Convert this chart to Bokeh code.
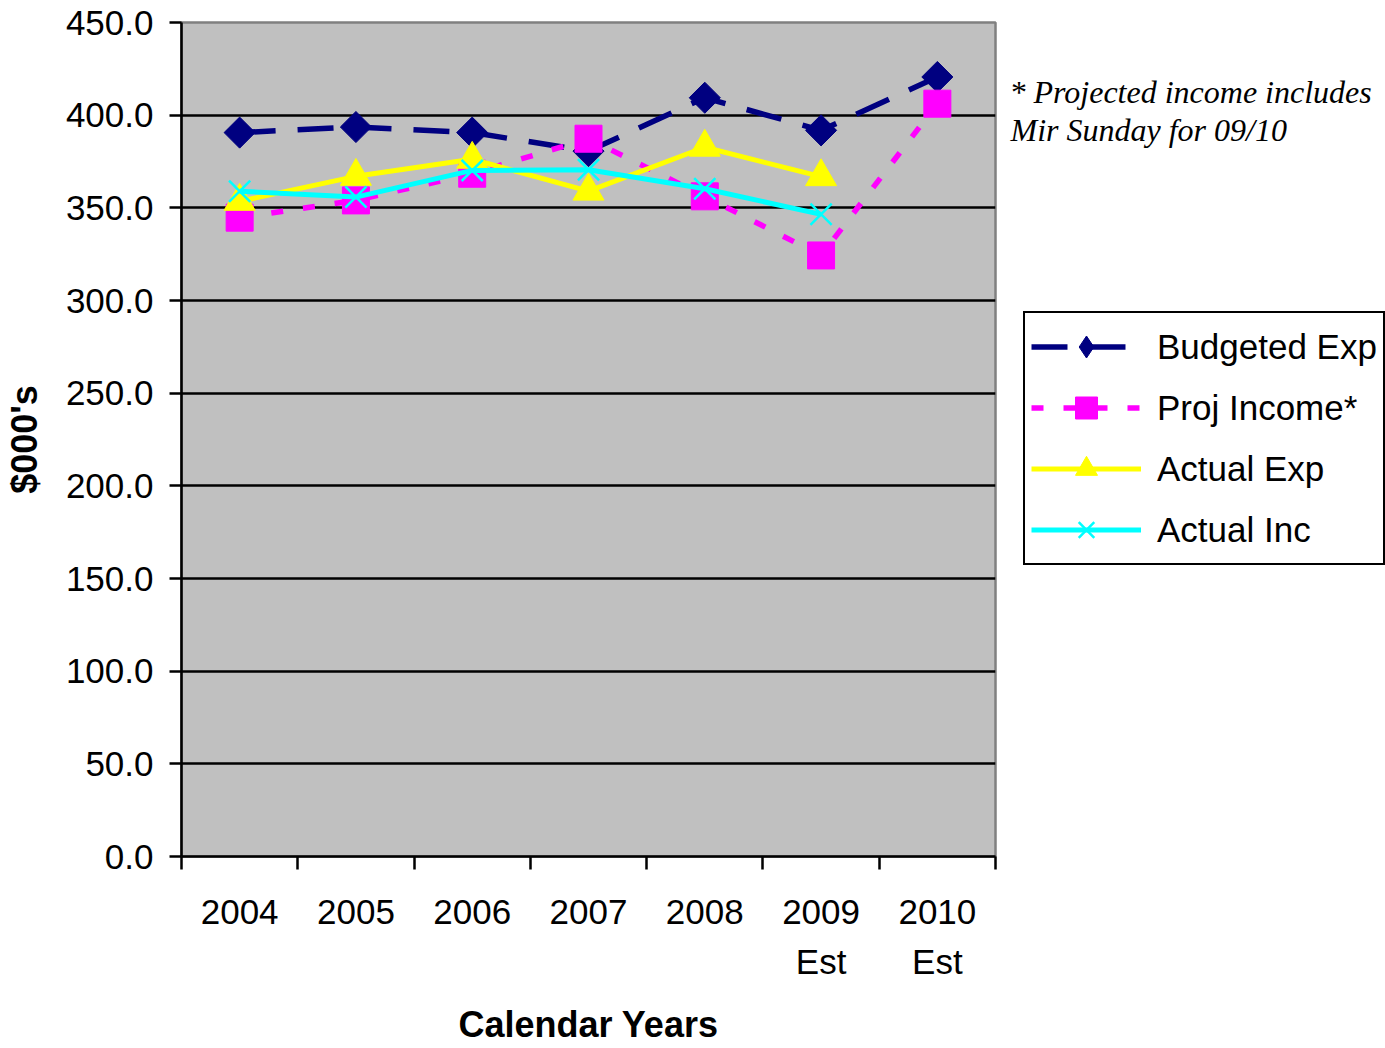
from bokeh.plotting import figure
from bokeh.layouts import row
from bokeh.models import (Range1d, FixedTicker, NumeralTickFormatter, Legend,
                          LegendItem, Label)
from bokeh.embed import file_html
from bokeh.resources import INLINE

# Calendar years (category labels) and series values in $000's
years = ["2004", "2005", "2006", "2007", "2008", "2009\nEst", "2010\nEst"]
budgeted_exp = [390.6, 393.6, 390.6, 380.6, 409.4, 391.8, 420.6]
proj_income = [344.7, 354.0, 368.4, 387.3, 356.2, 324.3, 406.2]
actual_exp = [353.5, 367.0, 376.2, 359.0, 382.7, 366.8]
actual_inc = [359.0, 355.8, 370.2, 370.5, 360.3, 346.5]
y_ticks = [0, 50, 100, 150, 200, 250, 300, 350, 400, 450]

series_names = ["Budgeted Exp", "Proj Income*", "Actual Exp", "Actual Inc"]
series_values = [budgeted_exp, proj_income, actual_exp, actual_inc]

# each year occupies one unit slot; points sit in the middle of their slot
centers = [i + 0.5 for i in range(len(years))]
bounds = list(range(len(years) + 1))

SANS = "Liberation Sans"
SERIF = "Liberation Serif"

# style of each series: (line style, marker style)
styles = [
    (dict(line_color="#000080", line_width=5.5, line_dash="36 22"),
     dict(marker="square", size=22, angle=0.785398, fill_color="#000080",
          line_color="#000080")),
    (dict(line_color="#FF00FF", line_width=5.5, line_dash="12 20"),
     dict(marker="square", size=27, fill_color="#FF00FF", line_color="#FF00FF")),
    (dict(line_color="#FFFF00", line_width=5),
     dict(marker="triangle", size=31, fill_color="#FFFF00", line_color="#FFFF00")),
    (dict(line_color="#00FFFF", line_width=5),
     dict(marker="x", size=30, line_color="#00FFFF", line_width=2.5)),
]

p = figure(width=1000, height=1048, output_backend="svg", toolbar_location=None,
           x_range=Range1d(0, len(years)), y_range=Range1d(0, 450),
           min_border_left=180, min_border_right=5,
           min_border_top=22, min_border_bottom=192)
p.background_fill_color = "#C0C0C0"
p.border_fill_color = "white"
p.outline_line_color = "#808080"
p.outline_line_width = 2.5

# y axis
yax = p.yaxis[0]
yax.ticker = FixedTicker(ticks=y_ticks)
yax.formatter = NumeralTickFormatter(format="0.0")
yax.axis_line_color = "black"
yax.axis_line_width = 2.5
yax.major_tick_line_color = "black"
yax.major_tick_line_width = 2.5
yax.major_tick_in = 0
yax.major_tick_out = 12
yax.minor_tick_line_color = None
yax.major_label_text_font = SANS
yax.major_label_text_font_size = "35px"
yax.major_label_text_color = "black"
yax.major_label_standoff = 16
yax.axis_label = "$000's"
yax.axis_label_text_font = SANS
yax.axis_label_text_font_style = "bold"
yax.axis_label_text_font_size = "36px"
yax.axis_label_text_color = "black"
yax.axis_label_standoff = 18

# x axis: labels centred in each slot, tick marks on slot boundaries
xax = p.xaxis[0]
xax.ticker = FixedTicker(ticks=centers, minor_ticks=bounds)
xax.major_label_overrides = {c: y for c, y in zip(centers, years)}
xax.axis_line_color = "black"
xax.axis_line_width = 2.5
xax.major_tick_line_color = None
xax.major_tick_in = 0
xax.major_tick_out = 0
xax.minor_tick_line_color = "black"
xax.minor_tick_line_width = 2.5
xax.minor_tick_in = 0
xax.minor_tick_out = 13
xax.major_label_text_font = SANS
xax.major_label_text_font_size = "35px"
xax.major_label_text_color = "black"
xax.major_label_text_line_height = 1.3
xax.major_label_standoff = 22
xax.axis_label = "Calendar Years"
xax.axis_label_text_font = SANS
xax.axis_label_text_font_style = "bold"
xax.axis_label_text_font_size = "36px"
xax.axis_label_text_color = "black"
xax.axis_label_text_line_height = 1.0
xax.axis_label_standoff = 20

p.xgrid.grid_line_color = None
p.ygrid.ticker = FixedTicker(ticks=y_ticks[1:-1])
p.ygrid.grid_line_color = "black"
p.ygrid.grid_line_width = 2.5

# series, drawn in order so later markers sit on top
for vals, (ls, ms) in zip(series_values, styles):
    xs = centers[:len(vals)]
    p.line(xs, vals, **ls)
    p.scatter(xs, vals, **ms)

# side panel holding the legend box and the footnote
side = figure(width=385, height=1048, output_backend="svg", toolbar_location=None,
              x_range=Range1d(0, 1), y_range=Range1d(0, 1),
              x_axis_location=None, y_axis_location=None,
              min_border_left=0, min_border_right=0,
              min_border_top=0, min_border_bottom=0)
side.grid.visible = False
side.outline_line_color = None
side.background_fill_color = "white"
side.border_fill_color = "white"

# legend glyph sources: the same series, kept hidden in this panel
# (legend markers are drawn unrotated, so the budget series uses a diamond here)
legend_markers = [dict(styles[0][1], marker="diamond", angle=0.0, size=22)] + \
                 [s[1] for s in styles[1:]]
items = []
for name, vals, (ls, _), ms in zip(series_names, series_values, styles, legend_markers):
    xs = centers[:len(vals)]
    r_line = side.line(xs, vals, visible=False, **ls)
    r_mark = side.scatter(xs, vals, visible=False, **ms)
    items.append(LegendItem(label=name, renderers=[r_line, r_mark]))

legend = Legend(items=items)
legend.location = (23, 291)
legend.orientation = "vertical"
legend.border_line_color = "black"
legend.border_line_alpha = 1.0
legend.border_line_width = 2
legend.background_fill_color = "white"
legend.background_fill_alpha = 1.0
legend.inactive_fill_alpha = 0.0
legend.padding = 6
legend.spacing = 6
legend.margin = 0
legend.glyph_width = 110
legend.glyph_height = 55
legend.label_height = 40
legend.label_standoff = 16
legend.label_text_font = SANS
legend.label_text_font_size = "35px"
legend.label_text_color = "black"
legend.label_text_baseline = "middle"
side.add_layout(legend, "center")

# footnote
note_style = dict(x_units="screen", y_units="screen", text_font=SERIF,
                  text_font_style="italic", text_font_size="32px",
                  text_color="black", text_baseline="alphabetic")
side.add_layout(Label(x=9, y=765, text="* Projected income includes", **note_style))
side.add_layout(Label(x=10, y=727, text="Mir Sunday for 09/10", **note_style))

open("out.html", "w").write(file_html(row(p, side), INLINE))
